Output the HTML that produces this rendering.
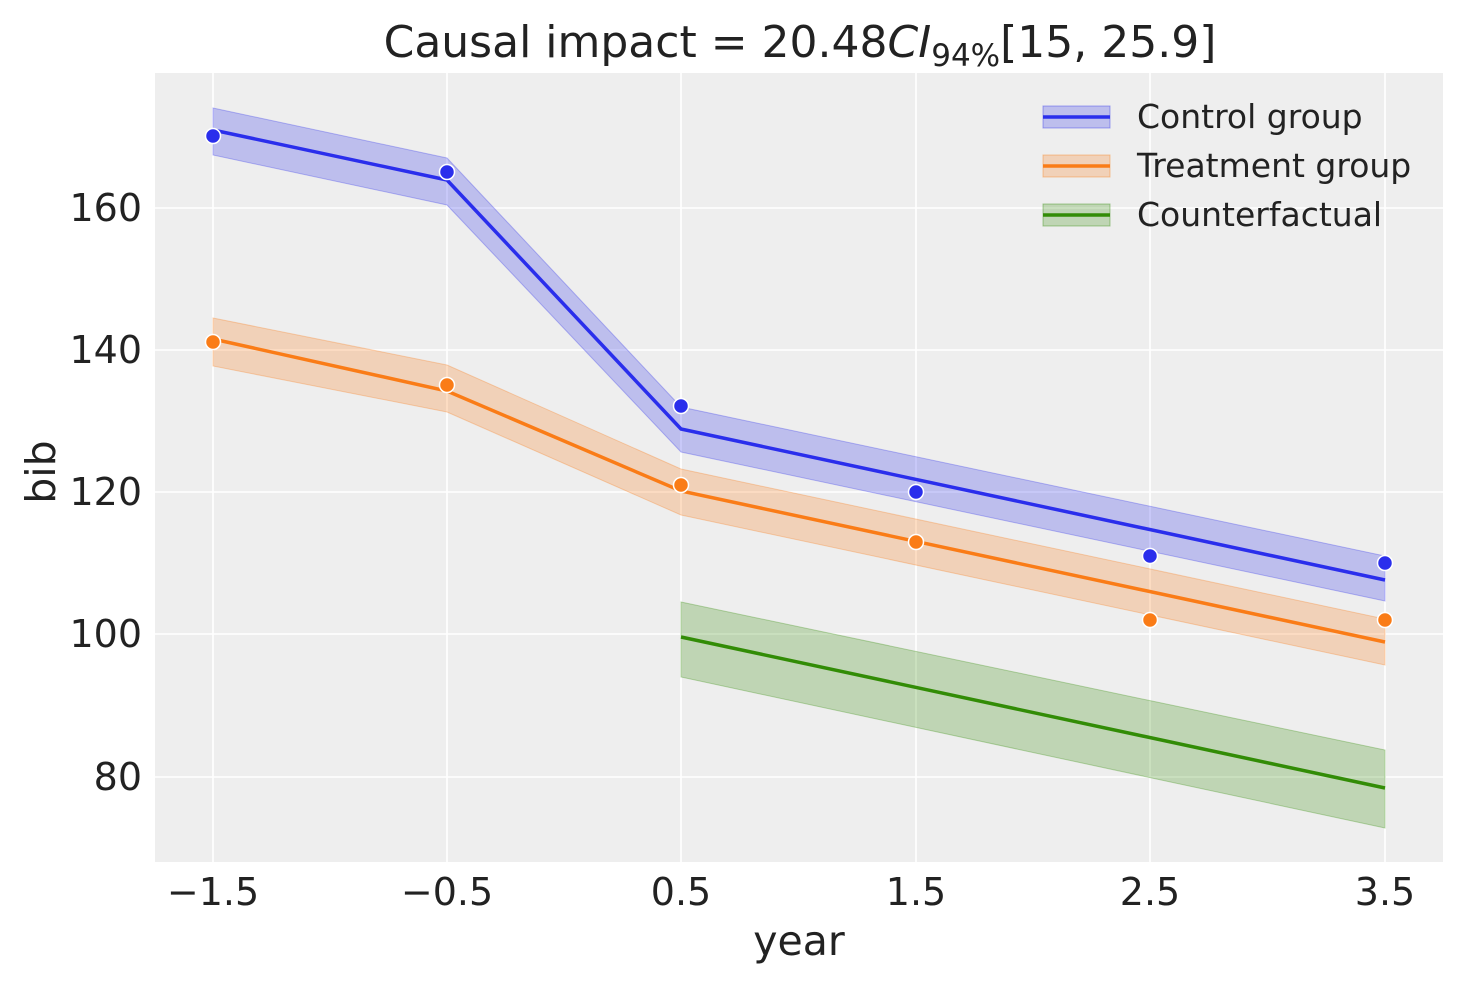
<!DOCTYPE html>
<html><head><meta charset="utf-8"><style>
html,body{margin:0;padding:0;background:#fff;}
svg text{font-family:"DejaVu Sans","Liberation Sans",sans-serif;fill:#222;}
</style></head><body>
<svg width="1463" height="983" viewBox="0 0 1463 983" xmlns="http://www.w3.org/2000/svg">
<rect x="155" y="73" width="1288" height="789" fill="#eeeeee"/>
<g stroke="#fff" stroke-width="1.6">
<line x1="213" y1="73" x2="213" y2="862"/><line x1="447" y1="73" x2="447" y2="862"/>
<line x1="681" y1="73" x2="681" y2="862"/><line x1="916" y1="73" x2="916" y2="862"/>
<line x1="1150" y1="73" x2="1150" y2="862"/><line x1="1385" y1="73" x2="1385" y2="862"/>
<line x1="155" y1="208" x2="1443" y2="208"/><line x1="155" y1="350" x2="1443" y2="350"/>
<line x1="155" y1="492" x2="1443" y2="492"/><line x1="155" y1="634" x2="1443" y2="634"/>
<line x1="155" y1="777" x2="1443" y2="777"/>
</g>
<polygon points="213,108 447,158 681,407 1385,556 1385,601 681,452 447,205 213,155" fill="#2a2eec" fill-opacity="0.25" stroke="#2a2eec" stroke-opacity="0.3"/>
<polygon points="213,318 447,365 681,469 1385,619 1385,665 681,515 447,412 213,366" fill="#fa7c17" fill-opacity="0.25" stroke="#fa7c17" stroke-opacity="0.3"/>
<polygon points="681,602 1385,750 1385,828 681,677" fill="#328c06" fill-opacity="0.25" stroke="#328c06" stroke-opacity="0.3"/>
<polyline points="213,130 447,180 681,429 1385,580" fill="none" stroke="#2a2eec" stroke-width="3.5"/>
<polyline points="213,339 447,391 681,491 1385,642" fill="none" stroke="#fa7c17" stroke-width="3.5"/>
<polyline points="681,637 1385,788" fill="none" stroke="#328c06" stroke-width="3.5"/>
<g fill="#2a2eec" stroke="#fff" stroke-width="1.5">
<circle cx="213" cy="136" r="7.5"/><circle cx="447" cy="172" r="7.5"/><circle cx="681" cy="406" r="7.5"/>
<circle cx="916" cy="492" r="7.5"/><circle cx="1150" cy="556" r="7.5"/><circle cx="1385" cy="563" r="7.5"/>
</g>
<g fill="#fa7c17" stroke="#fff" stroke-width="1.5">
<circle cx="213" cy="342" r="7.5"/><circle cx="447" cy="385" r="7.5"/><circle cx="681" cy="485" r="7.5"/>
<circle cx="916" cy="542" r="7.5"/><circle cx="1150" cy="620" r="7.5"/><circle cx="1385" cy="620" r="7.5"/>
</g>
<rect x="1043" y="106" width="67" height="22" fill="#2a2eec" fill-opacity="0.25" stroke="#2a2eec" stroke-opacity="0.4"/>
<line x1="1043" y1="117" x2="1110" y2="117" stroke="#2a2eec" stroke-width="3.5"/>
<rect x="1043" y="155" width="67" height="22" fill="#fa7c17" fill-opacity="0.25" stroke="#fa7c17" stroke-opacity="0.4"/>
<line x1="1043" y1="166" x2="1110" y2="166" stroke="#fa7c17" stroke-width="3.5"/>
<rect x="1043" y="204" width="67" height="22" fill="#328c06" fill-opacity="0.25" stroke="#328c06" stroke-opacity="0.4"/>
<line x1="1043" y1="215" x2="1110" y2="215" stroke="#328c06" stroke-width="3.5"/>
<g font-size="33">
<text x="1137" y="128">Control group</text>
<text x="1137" y="177">Treatment group</text>
<text x="1137" y="226">Counterfactual</text>
</g>
<g font-size="38" text-anchor="middle">
<text x="213" y="905">−1.5</text><text x="447" y="905">−0.5</text><text x="681" y="905">0.5</text>
<text x="916" y="905">1.5</text><text x="1150" y="905">2.5</text><text x="1385" y="905">3.5</text>
</g>
<g font-size="38" text-anchor="end">
<text x="142" y="221">160</text><text x="142" y="363">140</text><text x="142" y="505">120</text>
<text x="142" y="647">100</text><text x="142" y="790">80</text>
</g>
<text x="799" y="955" font-size="41" text-anchor="middle">year</text>
<text x="55" y="472" font-size="41" text-anchor="middle" transform="rotate(-90 55 472)">bib</text>
<text x="800" y="57" font-size="44" text-anchor="middle">Causal impact = 20.48<tspan font-style="italic">CI</tspan><tspan font-size="31" dy="9">94%</tspan><tspan dy="-9">[15, 25.9]</tspan></text>
</svg>
</body></html>
